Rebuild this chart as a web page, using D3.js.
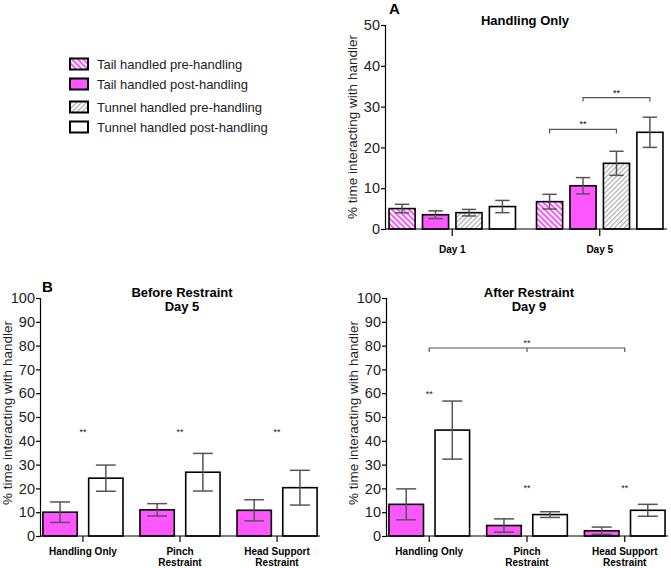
<!DOCTYPE html>
<html><head><meta charset="utf-8">
<script src="https://cdn.jsdelivr.net/npm/d3@7"></script>
<style>body{margin:0;background:#fff}svg{font-family:"Liberation Sans",Arial,sans-serif}</style>
</head><body>
<svg id="c" width="671" height="568"></svg>
<script>
// ---------- DATA ----------
const seriesA = ["Tail handled pre-handling","Tail handled post-handling","Tunnel handled pre-handling","Tunnel handled post-handling"];
const daysA = ["Day 1","Day 5"];
const valuesA = [[5.0,3.5,4.0,5.5],[6.7,10.6,16.1,23.7]];
const errorsA = [[1.05,0.95,0.8,1.5],[1.8,2.0,2.95,3.7]];
const yTicksA = [0,10,20,30,40,50];
const sigA = [{group:"Day 5",from:0,to:2,y:24.4},{group:"Day 5",from:1,to:3,y:32.2}];

const seriesB = ["Tail handled post-handling","Tunnel handled post-handling"];
const groupsB = ["Handling Only","Pinch Restraint","Head Support Restraint"];
const groupLabelsB = [["Handling Only"],["Pinch","Restraint"],["Head Support","Restraint"]];
const beforeValues = [[10.0,24.3],[11.0,26.8],[10.8,20.3]];
const beforeErrors = [[4.3,5.5],[2.6,7.9],[4.45,7.3]];
const beforeStars = [42.5,42.5,42.5];
const afterValues = [[13.3,44.5],[4.4,9.0],[2.2,10.8]];
const afterErrors = [[6.5,12.2],[2.8,1.2],[1.55,2.5]];
const afterStars = [58.5,19,19];
const afterBracket = {from:"Handling Only",to:"Head Support Restraint",mid:"Pinch Restraint",y:79};
const yTicksB = [0,10,20,30,40,50,60,70,80,90,100];

const PINK = "#ff57ff";
const fills = {
  "Tail handled pre-handling":"url(#hatchPink)",
  "Tail handled post-handling":PINK,
  "Tunnel handled pre-handling":"url(#hatchGray)",
  "Tunnel handled post-handling":"#fff"
};
const ERR = "#555";

const svg = d3.select("#c");
const defs = svg.append("defs");
const p1 = defs.append("pattern").attr("id","hatchPink").attr("patternUnits","userSpaceOnUse")
  .attr("width",4).attr("height",4).attr("patternTransform","rotate(-45)");
p1.append("rect").attr("width",4).attr("height",4).attr("fill","#fff");
p1.append("rect").attr("width",2).attr("height",4).attr("fill",PINK);
const p2 = defs.append("pattern").attr("id","hatchGray").attr("patternUnits","userSpaceOnUse")
  .attr("width",3.5).attr("height",3.5).attr("patternTransform","rotate(45)");
p2.append("rect").attr("width",3.5).attr("height",3.5).attr("fill","#fff");
p2.append("rect").attr("width",1.2).attr("height",3.5).attr("fill","#aaa");

function yAxis(g, y, ticks, fs){
  const ax = g.append("g").attr("transform",`translate(${y.x0},0)`)
    .call(d3.axisLeft(y).tickValues(ticks).tickSize(4).tickPadding(1).tickFormat(d3.format("d")));
  ax.attr("font-family",null).attr("font-size",null);
  ax.select(".domain").attr("stroke","#000").attr("stroke-width",1.2);
  ax.selectAll(".tick line").attr("stroke","#000").attr("stroke-width",1.2);
  ax.selectAll("text").attr("font-size",fs).attr("fill","#222");
}

function errorBar(g, cx, y, v, e, capW){
  g.append("line").attr("x1",cx).attr("x2",cx).attr("y1",y(v+e)).attr("y2",y(Math.max(0,v-e))).attr("stroke",ERR).attr("stroke-width",1.5);
  [v+e, Math.max(0,v-e)].forEach(t=>g.append("line").attr("x1",cx-capW/2).attr("x2",cx+capW/2).attr("y1",y(t)).attr("y2",y(t)).attr("stroke",ERR).attr("stroke-width",1.5));
}

// ---------- PANEL A ----------
(function(){
  const left=385, right=667, top=25, bottom=229;
  const y = d3.scaleLinear().domain([0,50]).range([bottom,top]); y.x0 = left;
  const x0 = d3.scaleBand().domain(daysA).range([left,right]).paddingInner(0.12).paddingOuter(0.016);
  const x1 = d3.scaleBand().domain(seriesA).range([0,x0.bandwidth()]).paddingInner(0.22).paddingOuter(0.05);
  const g = svg.append("g");
  daysA.forEach((d,i)=>{
    seriesA.forEach((s,j)=>{
      const bx = x0(d)+x1(s), v = valuesA[i][j];
      g.append("rect").attr("x",bx).attr("y",y(v)).attr("width",x1.bandwidth()).attr("height",bottom-y(v))
        .attr("fill",fills[s]).attr("stroke","#000").attr("stroke-width",1.6);
      errorBar(g, bx+x1.bandwidth()/2, y, v, errorsA[i][j], x1.bandwidth()*0.55);
    });
  });
  g.append("line").attr("x1",left).attr("x2",right).attr("y1",bottom).attr("y2",bottom).attr("stroke","#000").attr("stroke-width",1.2);
  daysA.forEach(d=>{
    const cx = x0(d)+x0.bandwidth()/2;
    g.append("line").attr("x1",cx).attr("x2",cx).attr("y1",bottom).attr("y2",bottom+7).attr("stroke","#000").attr("stroke-width",1.2);
    g.append("text").attr("x",cx).attr("y",253).attr("text-anchor","middle").attr("font-size",10).attr("font-weight","bold").text(d);
  });
  yAxis(g,y,yTicksA,14.5);
  g.append("text").attr("transform",`translate(357,${(top+bottom)/2}) rotate(-90)`).attr("text-anchor","middle").attr("font-size",13.5).attr("fill","#222").text("% time interacting with handler");
  g.append("text").attr("x",525).attr("y",25).attr("text-anchor","middle").attr("font-size",13).attr("font-weight","bold").text("Handling Only");
  g.append("text").attr("x",389).attr("y",14).attr("font-size",15).attr("font-weight","bold").text("A");
  sigA.forEach(b=>{
    const xa = x0(b.group)+x1(seriesA[b.from])+x1.bandwidth()/2;
    const xb = x0(b.group)+x1(seriesA[b.to])+x1.bandwidth()/2;
    const yy = y(b.y);
    g.append("path").attr("d",`M${xa},${yy+4}V${yy}H${xb}V${yy+4}`).attr("fill","none").attr("stroke",ERR).attr("stroke-width",1.2);
    g.append("text").attr("x",(xa+xb)/2).attr("y",yy-2).attr("text-anchor","middle").attr("font-size",9).text("**");
  });
})();

// ---------- LEGEND ----------
(function(){
  const rows=[64,84,107,127];
  seriesA.forEach((s,i)=>{
    svg.append("rect").attr("x",70).attr("y",rows[i]-5.5).attr("width",18).attr("height",11)
      .attr("fill",fills[s]).attr("stroke","#000").attr("stroke-width",2);
    svg.append("text").attr("x",97).attr("y",rows[i]+4.5).attr("font-size",13).attr("fill","#222").text(s);
  });
})();

// ---------- PANEL B ----------
function panelB(left,right,values,errors,stars,title1,title2,bracket){
  const top=298, bottom=536;
  const y = d3.scaleLinear().domain([0,100]).range([bottom,top]); y.x0 = left;
  const x0 = d3.scaleBand().domain(groupsB).range([left,right]).paddingInner(0.175).paddingOuter(0.03);
  const x1 = d3.scaleBand().domain(seriesB).range([0,x0.bandwidth()]).paddingInner(0.25).paddingOuter(0);
  const g = svg.append("g");
  groupsB.forEach((gr,i)=>{
    seriesB.forEach((s,j)=>{
      const bx = x0(gr)+x1(s), v = values[i][j];
      g.append("rect").attr("x",bx).attr("y",y(v)).attr("width",x1.bandwidth()).attr("height",bottom-y(v))
        .attr("fill",fills[s]).attr("stroke","#000").attr("stroke-width",1.6);
      errorBar(g, bx+x1.bandwidth()/2, y, v, errors[i][j], x1.bandwidth()*0.58);
    });
    const cx = x0(gr)+x0.bandwidth()/2;
    g.append("text").attr("x",cx).attr("y",y(stars[i])).attr("text-anchor","middle").attr("font-size",9).attr("fill","#222").text("**");
  });
  g.append("line").attr("x1",left).attr("x2",right).attr("y1",bottom).attr("y2",bottom).attr("stroke","#000").attr("stroke-width",1.2);
  groupsB.forEach((gr,i)=>{
    const cx = x0(gr)+x0.bandwidth()/2;
    g.append("line").attr("x1",cx).attr("x2",cx).attr("y1",bottom).attr("y2",bottom+6).attr("stroke","#000").attr("stroke-width",1.2);
    const t = g.append("text").attr("x",cx).attr("y",555).attr("text-anchor","middle").attr("font-size",10).attr("font-weight","bold");
    groupLabelsB[i].forEach((l,k)=>t.append("tspan").attr("x",cx).attr("dy",k?11:0).text(l));
  });
  yAxis(g,y,yTicksB,14.5);
  g.append("text").attr("transform",`translate(${left-28},${(top+bottom)/2-4}) rotate(-90)`).attr("text-anchor","middle").attr("font-size",13.5).attr("fill","#222").text("% time interacting with handler");
  const tc = (left+right)/2+2;
  g.append("text").attr("x",tc).attr("y",297).attr("text-anchor","middle").attr("font-size",13).attr("font-weight","bold").text(title1);
  g.append("text").attr("x",tc).attr("y",311).attr("text-anchor","middle").attr("font-size",13).attr("font-weight","bold").text(title2);
  if(bracket){
    const xa = x0(bracket.from)+x0.bandwidth()/2, xb = x0(bracket.to)+x0.bandwidth()/2, xm = x0(bracket.mid)+x0.bandwidth()/2;
    const yy = y(bracket.y);
    g.append("path").attr("d",`M${xa},${yy+4}V${yy}H${xb}V${yy+4}M${xm},${yy}V${yy+4}`).attr("fill","none").attr("stroke",ERR).attr("stroke-width",1.2);
    g.append("text").attr("x",xm).attr("y",yy-2).attr("text-anchor","middle").attr("font-size",9).attr("fill","#222").text("**");
  }
}
panelB(40,320,beforeValues,beforeErrors,beforeStars,"Before Restraint","Day 5",null);
panelB(386,668,afterValues,afterErrors,afterStars,"After Restraint","Day 9",afterBracket);
svg.append("text").attr("x",42).attr("y",292).attr("font-size",15).attr("font-weight","bold").text("B");
</script>
</body></html>
